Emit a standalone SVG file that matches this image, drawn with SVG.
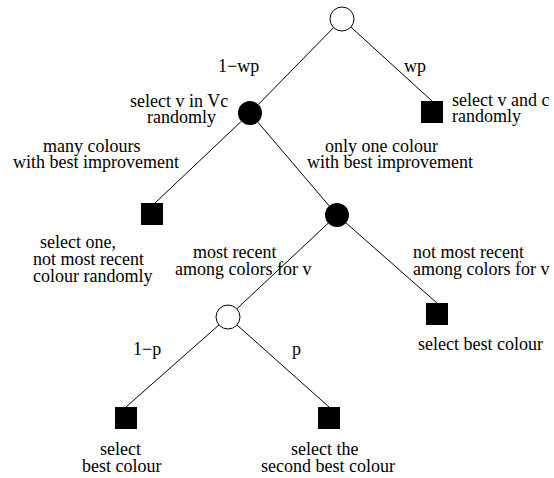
<svg xmlns="http://www.w3.org/2000/svg" width="554" height="478" viewBox="0 0 554 478">
<style>
text{font-family:"Liberation Serif","Times New Roman",serif;font-size:18px;fill:#000}
.e line{stroke:#000;stroke-width:1}
.open{fill:#fff;stroke:#000;stroke-width:1}
.fill{fill:#000}
</style>
<rect width="554" height="478" fill="#fff"/>
<g id="connectors" class="e">
<line x1="333.6" y1="27.6" x2="258.4" y2="104.4"/>
<line x1="350.9" y1="27.1" x2="432" y2="101"/>
<line x1="241.3" y1="121.3" x2="155" y2="203"/>
<line x1="257.8" y1="122.1" x2="329.2" y2="205.9"/>
<line x1="328.2" y1="223.2" x2="236.8" y2="308.8"/>
<line x1="346" y1="222.9" x2="437" y2="303"/>
<line x1="219" y1="324.9" x2="126" y2="407"/>
<line x1="237" y1="325" x2="329" y2="407"/>
</g>
<g id="labels">
<text x="218" y="72">1−wp</text>
<text x="404" y="72">wp</text>
<text x="13" y="168">with best improvement</text>
<text x="43" y="152">many colours</text>
<text x="325" y="152">only one colour</text>
<text x="307" y="168">with best improvement</text>
<text x="193" y="258">most recent</text>
<text x="175" y="275">among colors for v</text>
<text x="413" y="258">not most recent</text>
<text x="413" y="275">among colors for v</text>
<text x="133" y="355">1−p</text>
<text x="292" y="355">p</text>
</g>
<g id="root"><circle class="open" cx="342" cy="19" r="12"/></g>
<g id="selectV"><circle class="fill" cx="250" cy="113" r="12"/>
<text x="130" y="107">select v in Vc</text><text x="147" y="123">randomly</text></g>
<g id="randomVC"><rect class="fill" x="421" y="101" width="22" height="22"/>
<text x="452" y="106">select v and c</text><text x="452" y="122">randomly</text></g>
<g id="selectOne"><rect class="fill" x="141" y="203" width="22" height="22"/>
<text x="40" y="248">select one,</text><text x="33" y="265">not most recent</text><text x="33" y="282">colour randomly</text></g>
<g id="onlyOne"><circle class="fill" cx="337" cy="215" r="12"/></g>
<g id="bestRight"><rect class="fill" x="426" y="303" width="22" height="22"/>
<text x="418" y="350">select best colour</text></g>
<g id="mostRecent"><circle class="open" cx="228" cy="317" r="12"/></g>
<g id="bestLeft"><rect class="fill" x="115" y="407" width="22" height="22"/>
<text x="100" y="455">select</text><text x="82" y="472">best colour</text></g>
<g id="secondBest"><rect class="fill" x="318" y="407" width="22" height="22"/>
<text x="291" y="455">select the</text><text x="261" y="472">second best colour</text></g>
</svg>
